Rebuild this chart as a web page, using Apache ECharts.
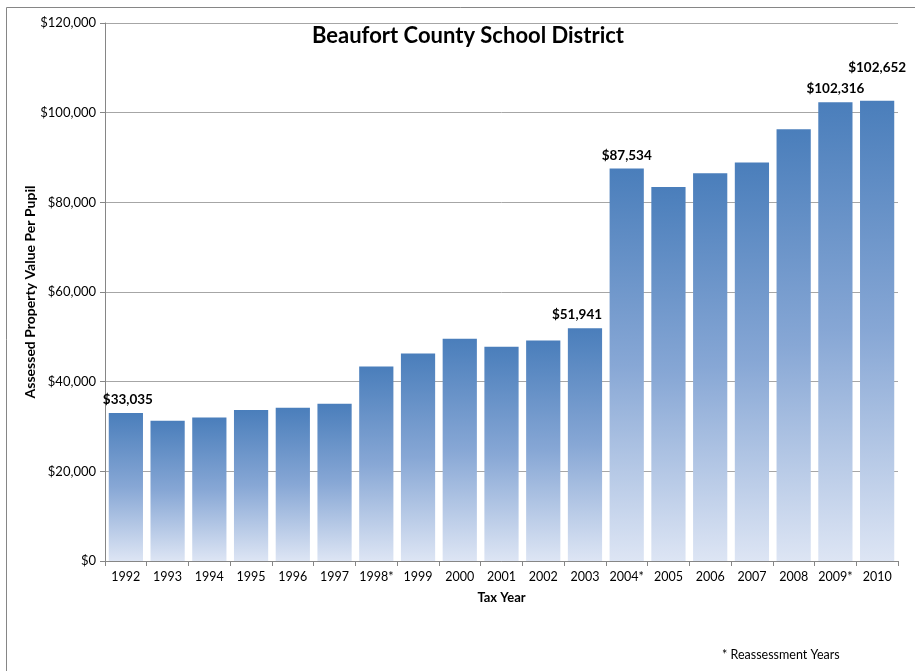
<!DOCTYPE html>
<html>
<head>
<meta charset="utf-8">
<script src="https://cdn.jsdelivr.net/npm/echarts@6/dist/echarts.min.js"></script>
<style>html,body{margin:0;padding:0;background:#fff;}#c{width:915px;height:671px;}</style>
</head>
<body>
<div id="c"></div>
<script>
const years = ['1992','1993','1994','1995','1996','1997','1998*','1999','2000','2001','2002','2003','2004*','2005','2006','2007','2008','2009*','2010'];
const values = [33035,31300,32000,33700,34200,35100,43400,46300,49600,47800,49200,51941,87534,83400,86500,88900,96300,102316,102652];
const labeledYears = ['1992','2003','2004*','2009*','2010'];
const yTicks = [0,20000,40000,60000,80000,100000,120000];
const labelOffsets = {'1992':[2,0],'2003':[-8,0],'2004*':[0,0],'2009*':[0,-1],'2010':[0,-20]};

const FONT = 'Lato, "Open Sans", sans-serif';
const fmt = v => '$' + v.toLocaleString('en-US');

const chart = echarts.init(document.getElementById('c'), null, {renderer:'canvas'});
chart.setOption({
  animation:false,
  backgroundColor:'#fff',
  title:{text:'Beaufort County School District', left:463, top:20, textAlign:'center',
    textStyle:{fontFamily:FONT, fontSize:22, fontWeight:'bold', color:'#000'}},
  grid:{left:105, right:17, top:23, bottom:110, containLabel:false},
  xAxis:{type:'category', data:years,
    name:'Tax Year', nameLocation:'middle', nameGap:30,
    nameTextStyle:{fontFamily:FONT, fontSize:13, fontWeight:'bold', color:'#000'},
    axisLine:{lineStyle:{color:'#868686', width:1}},
    axisTick:{show:true, length:5, lineStyle:{color:'#868686'}},
    axisLabel:{fontFamily:FONT, fontSize:12.5, color:'#000', margin:9, interval:0}},
  yAxis:{type:'value', min:0, max:120000, interval:20000,
    name:'Assessed Property Value Per Pupil', nameLocation:'middle', nameGap:68, nameMoveOverlap:false,
    nameTextStyle:{fontFamily:FONT, fontSize:14, fontWeight:'bold', color:'#000'},
    axisLine:{show:true, lineStyle:{color:'#868686'}},
    axisTick:{show:true, length:5, lineStyle:{color:'#868686'}},
    axisLabel:{fontFamily:FONT, fontSize:13, color:'#000', margin:9,
      formatter:v => yTicks.includes(v) ? fmt(v) : ''},
    splitLine:{lineStyle:{color:'#a6a6a6', width:1}}},
  series:[{
    type:'bar', barCategoryGap:'18%',
    data: values.map((v,i)=>{
      const y = years[i];
      const show = labeledYears.includes(y);
      return {value:v, label:{show:show, offset: labelOffsets[y] || [0,0]}};
    }),
    itemStyle:{color:new echarts.graphic.LinearGradient(0,0,0,1,[
      {offset:0, color:'#4a7ebb'},{offset:0.5, color:'#87a7d5'},{offset:1, color:'#dde5f4'}])},
    label:{position:'top', distance:6, fontFamily:FONT, fontSize:13.5, fontWeight:'bold', color:'#000',
      formatter:p => fmt(p.value)}
  }],
  graphic:[
    {type:'line', shape:{x1:6.5,y1:7.5,x2:915,y2:7.5}, style:{stroke:'#868686', lineWidth:1}},
    {type:'line', shape:{x1:6.5,y1:7.5,x2:6.5,y2:671}, style:{stroke:'#868686', lineWidth:1}},
    {type:'text', left:722, top:648, style:{text:'* Reassessment Years', font:'12.5px ' + FONT, fill:'#000'}}
  ]
});
</script>
</body>
</html>
